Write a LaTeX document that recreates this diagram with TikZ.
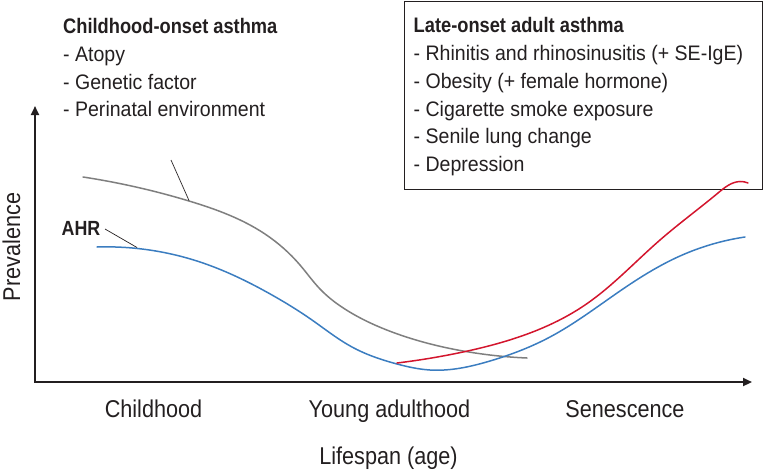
\documentclass[tikz,border=0pt]{standalone}
\usepackage{fontspec}
\setmainfont{Liberation Sans}
\newfontfamily\listfont{Liberation Sans}[FakeStretch=0.93]
\newfontfamily\headfont{Liberation Sans}[FakeStretch=0.87]
\newfontfamily\axisfont{Liberation Sans}[FakeStretch=0.89]
\usetikzlibrary{arrows.meta,hobby}
\definecolor{ink}{HTML}{231F20}
\definecolor{cgray}{HTML}{7F7F7F}
\definecolor{cblue}{HTML}{3B7DC0}
\definecolor{cred}{HTML}{D3152D}
\begin{document}
\begin{tikzpicture}[x=1pt,y=-1pt,
  listtext/.style={anchor=base west, inner sep=0pt, text=ink,
    font=\listfont\fontsize{21}{25}\selectfont},
  headtext/.style={anchor=base west, inner sep=0pt, text=ink,
    font=\headfont\bfseries\fontsize{21}{25}\selectfont},
  axislabel/.style={anchor=base, inner sep=0pt, text=ink,
    font=\axisfont\fontsize{24.3}{28}\selectfont},
  axisline/.style={line width=2.2pt, draw=ink, line join=miter,
    {Triangle[length=9pt,width=8pt]}-{Triangle[length=9pt,width=8pt]}},
  curve/.style={line width=1.5pt, line cap=round, use Hobby shortcut},
  leader/.style={line width=0.7pt, draw=ink}]
\useasboundingbox (0,0) rectangle (763,471);

% late-onset box
\node[draw=ink, line width=1.2pt, minimum width=358pt, minimum height=188pt,
      anchor=north west, inner sep=0pt] (lbox) at (403.6,0.8) {};

% childhood-onset text
\node[headtext] (ch)  at (63,33.5)  {Childhood-onset asthma};
\node[listtext] (ch1) at (63,61.3)  {- Atopy};
\node[listtext] (ch2) at (63,89.1)  {- Genetic factor};
\node[listtext] (ch3) at (63,116.9) {- Perinatal environment};

% late-onset text
\node[headtext] (lo)  at (413.5,32.3)  {Late-onset adult asthma};
\node[listtext] (lo1) at (413.5,60.2)  {- Rhinitis and rhinosinusitis (+ SE-IgE)};
\node[listtext] (lo2) at (413.5,88.1)  {- Obesity (+ female hormone)};
\node[listtext] (lo3) at (413.5,116.0) {- Cigarette smoke exposure};
\node[listtext] (lo4) at (413.5,143.9) {- Senile lung change};
\node[listtext] (lo5) at (413.5,171.8) {- Depression};

% AHR label
\node[anchor=base west, inner sep=0pt, text=ink,
      font=\headfont\bfseries\fontsize{20.5}{24}\selectfont] (ahr) at (61.5,235) {AHR};

% axes
\coordinate (O) at (35,382);
\coordinate (ytip) at (35,106);
\coordinate (xtip) at (752,382);
\draw[axisline] (ytip) -- (O) -- (xtip);

% axis labels
\node[axislabel] (lchild) at (153.5,417) {Childhood};
\node[axislabel] (lyoung) at (389.5,417) {Young adulthood};
\node[axislabel] (lsen)   at (625,417)   {Senescence};
\node[axislabel] (lspan)  at (388.5,464) {Lifespan (age)};
\node[axislabel, rotate=90] (lprev) at (20,247) {Prevalence};

% curves
\draw[curve, cgray] (83,177) .. (189,201) .. (265,234) .. (300,265) .. (320,289)
  .. (348,311) .. (392,332) .. (463,351) .. (527,358);
\draw[curve, cblue] (97,247) .. (200,262) .. (272,295) .. (312,320) .. (352,347)
  .. (397,364) .. (430,370) .. (490,361) .. (550,337) .. (620,291) .. (680,256) .. (745,237);
\draw[curve, cred] (397,363) .. (463,352) .. (530,333) .. (585,305) .. (660,240)
  .. (718,193) .. (740,181.5) .. (748,183);

% leader lines
\coordinate (gtop) at (171,160);
\coordinate (gpt)  at (189,200.5);
\draw[leader] (gtop) -- (gpt);
\coordinate (ahrstart) at (105,229);
\coordinate (bpt) at (137,247.5);
\draw[leader] (ahrstart) -- (bpt);
\end{tikzpicture}
\end{document}
